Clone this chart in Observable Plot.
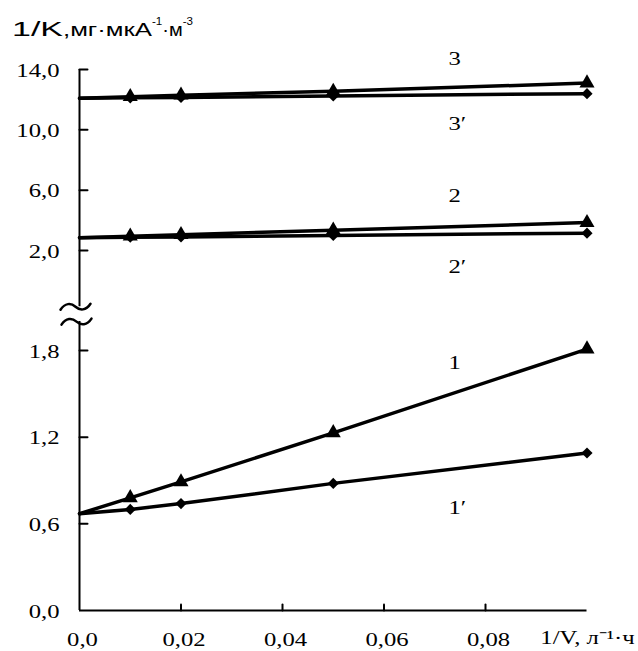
<!DOCTYPE html>
<html><head><meta charset="utf-8">
<script src="https://cdn.jsdelivr.net/npm/d3@7"></script>
<script src="https://cdn.jsdelivr.net/npm/@observablehq/plot@0.6"></script>
<style>
html,body{margin:0;padding:0;background:#fff}
#wrap{position:relative;width:638px;height:651px;overflow:hidden;background:#fff}
#wrap svg{position:absolute;left:0;top:0}
#title{position:absolute;left:12px;top:11px;font-family:'Liberation Sans',Arial,sans-serif;white-space:nowrap;line-height:21px;font-size:21px;color:#000;z-index:2}
#title .p{display:inline-block;transform-origin:0 50%}
</style></head>
<body>
<div id="wrap">
  <div id="title"><span class="p" id="t1" style="font-size:21px">1/K</span><span class="p" id="t2" style="font-size:19px">,мг·мкА</span><span class="p" id="t3" style="font-size:19px"><span style="font-size:11px;vertical-align:11px">-1</span>·м<span style="font-size:11px;vertical-align:11px">-3</span></span></div>
</div>
<script>
// ---- data ----
const xValues = [0, 0.01, 0.02, 0.05, 0.1];          // 1/V, first point = common intercept
const s1  = [0.67, 0.78, 0.89, 1.23, 1.81];          // curve 1  (triangles)
const s1p = [0.67, 0.70, 0.74, 0.88, 1.09];          // curve 1' (diamonds)
const s2  = [2.85, 2.95, 3.05, 3.35, 3.85];          // curve 2  (triangles)
const s2p = [2.85, 2.88, 2.90, 3.00, 3.15];          // curve 2' (diamonds)
const s3  = [12.1, 12.2, 12.3, 12.55, 13.1];         // curve 3  (triangles)
const s3p = [12.1, 12.12, 12.15, 12.25, 12.4];       // curve 3' (diamonds)
const upperTicks = [2, 6, 10, 14];
const upperTickLabels = ["2,0", "6,0", "10,0", "14,0"];
const lowerTicks = [0, 0.6, 1.2, 1.8];
const lowerTickLabels = ["0,0", "0,6", "1,2", "1,8"];
const xTicks = [0, 0.02, 0.04, 0.06, 0.08];
const xTickLabels = ["0,0", "0,02", "0,04", "0,06", "0,08"];
const xAxisLabel = "1/V, л⁻¹·ч";

// ---- layout ----
const W = 638, H = 651;
const serif = "Liberation Serif, Times New Roman, serif";
const xScale = {domain: [0, 0.1], range: [79, 586.5], axis: null};
const upperY = {domain: [2, 14], range: [250, 69], axis: null};
const lowerY = {domain: [0, 1.8], range: [610, 350], axis: null};
const upperBreak = -1.73, lowerBreak = 2.0;
const labelX = 0.0727;
const upperLabels = [{t: "3", y: 14.73}, {t: "3′", y: 10.4}, {t: "2", y: 5.6}, {t: "2′", y: 0.93}];
const lowerLabels = [{t: "1", y: 1.717}, {t: "1′", y: 0.713}];

const pts = (name, ys) => xValues.map((x, i) => ({x, y: ys[i], name, i}));
const upperTri = [...pts("3", s3), ...pts("2", s2)];
const upperDia = [...pts("3′", s3p), ...pts("2′", s2p)];
const lowerTri = pts("1", s1);
const lowerDia = pts("1′", s1p);

const tickShape = {draw(ctx, l) { ctx.moveTo(0, 0); ctx.lineTo(0, -l); }};
const tildeShape = {draw(ctx, l) {
  const h = l / 2;
  ctx.moveTo(-h, 3);
  ctx.bezierCurveTo(-h * 0.7, -4, -h * 0.3, -4, 0, 0);
  ctx.bezierCurveTo(h * 0.3, 4, h * 0.7, 4, h, -3);
}};
const common = {width: W, height: H, marginLeft: 0, marginRight: 0, marginTop: 0, marginBottom: 0,
  x: xScale, style: {background: "transparent", overflow: "visible"}};

const seriesMarks = (tri, dia) => [
  Plot.line(dia, {x: "x", y: "y", z: "name", stroke: "black", strokeWidth: 3.5}),
  Plot.line(tri, {x: "x", y: "y", z: "name", stroke: "black", strokeWidth: 3.5}),
  Plot.dot(dia.filter(d => d.i > 0), {x: "x", y: "y", symbol: "diamond2", r: 5, fill: "black", stroke: "none"}),
  Plot.dot(tri.filter(d => d.i > 0), {x: "x", y: "y", symbol: "triangle", r: 5.6, fill: "black", stroke: "none"})
];

const upper = Plot.plot({
  ...common,
  y: upperY,
  marks: [
    Plot.ruleX([0], {x: d => d, y1: () => 14, y2: () => upperBreak, stroke: "black", strokeWidth: 2}),
    Plot.vector(upperTicks, {x: () => 0, y: d => d, length: 8, rotate: 90, anchor: "start", shape: tickShape, stroke: "black", strokeWidth: 2}),
    Plot.text(upperTicks, {x: () => 0, y: d => d, text: (d, i) => upperTickLabels[i], textAnchor: "end", dx: -20, dy: 1, fontFamily: serif, fontSize: 19, fill: "black"}),
    ...seriesMarks(upperTri, upperDia),
    Plot.text(upperLabels, {x: () => labelX, y: "y", text: "t", textAnchor: "start", fontFamily: serif, fontSize: 19, fill: "black"}),
    Plot.vector([0], {x: () => 0, y: () => upperBreak, length: 30, rotate: 0, anchor: "start", dx: -4, shape: tildeShape, stroke: "black", strokeWidth: 2.5, fill: "none"})
  ]
});

const lower = Plot.plot({
  ...common,
  y: lowerY,
  marks: [
    Plot.ruleX([0], {x: d => d, y1: () => 0, y2: () => lowerBreak, stroke: "black", strokeWidth: 2}),
    Plot.ruleY([0], {y: d => d, x1: () => 0, x2: () => 0.1, stroke: "black", strokeWidth: 2}),
    Plot.vector(lowerTicks.slice(1), {x: () => 0, y: d => d, length: 8, rotate: 90, anchor: "start", shape: tickShape, stroke: "black", strokeWidth: 2}),
    Plot.vector(xTicks.slice(1), {x: d => d, y: () => 0, length: 6, rotate: 0, anchor: "start", shape: tickShape, stroke: "black", strokeWidth: 2}),
    Plot.text(lowerTicks, {x: () => 0, y: d => d, text: (d, i) => lowerTickLabels[i], textAnchor: "end", dx: -20, dy: 1, fontFamily: serif, fontSize: 19, fill: "black"}),
    Plot.text(xTicks, {x: d => d, y: () => 0, text: (d, i) => xTickLabels[i], dx: 3, dy: 29, fontFamily: serif, fontSize: 19, fill: "black"}),
    Plot.text([xAxisLabel], {x: () => 0.0908, y: () => 0, text: d => d, textAnchor: "start", dy: 27, fontFamily: serif, fontSize: 19, fill: "black"}),
    ...seriesMarks(lowerTri, lowerDia),
    Plot.text(lowerLabels, {x: () => labelX, y: "y", text: "t", textAnchor: "start", fontFamily: serif, fontSize: 19, fill: "black"}),
    Plot.vector([0], {x: () => 0, y: () => lowerBreak, length: 30, rotate: 0, anchor: "start", dx: -3, shape: tildeShape, stroke: "black", strokeWidth: 2.5, fill: "none"})
  ]
});

function stretch(svg, s) {
  svg.querySelectorAll("text").forEach(t => {
    const tr = t.getAttribute("transform") || "";
    if (t.hasAttribute("x")) {
      const x = +t.getAttribute("x") || 0;
      t.removeAttribute("x");
      t.setAttribute("transform", `${tr} translate(${x},0) scale(${s},1)`);
    } else {
      t.setAttribute("transform", `${tr} scale(${s},1)`);
    }
  });
}
stretch(upper, 1.3);
stretch(lower, 1.3);

const wrap = document.getElementById("wrap");
wrap.appendChild(lower);
wrap.appendChild(upper);

function fit(id, target) {
  const el = document.getElementById(id);
  const w = el.getBoundingClientRect().width;
  el.style.transform = `scaleX(${target / w})`;
  el.style.width = target + "px";
}
fit("t1", 51);
fit("t2", 89);
fit("t3", 41);
</script>
</body></html>
